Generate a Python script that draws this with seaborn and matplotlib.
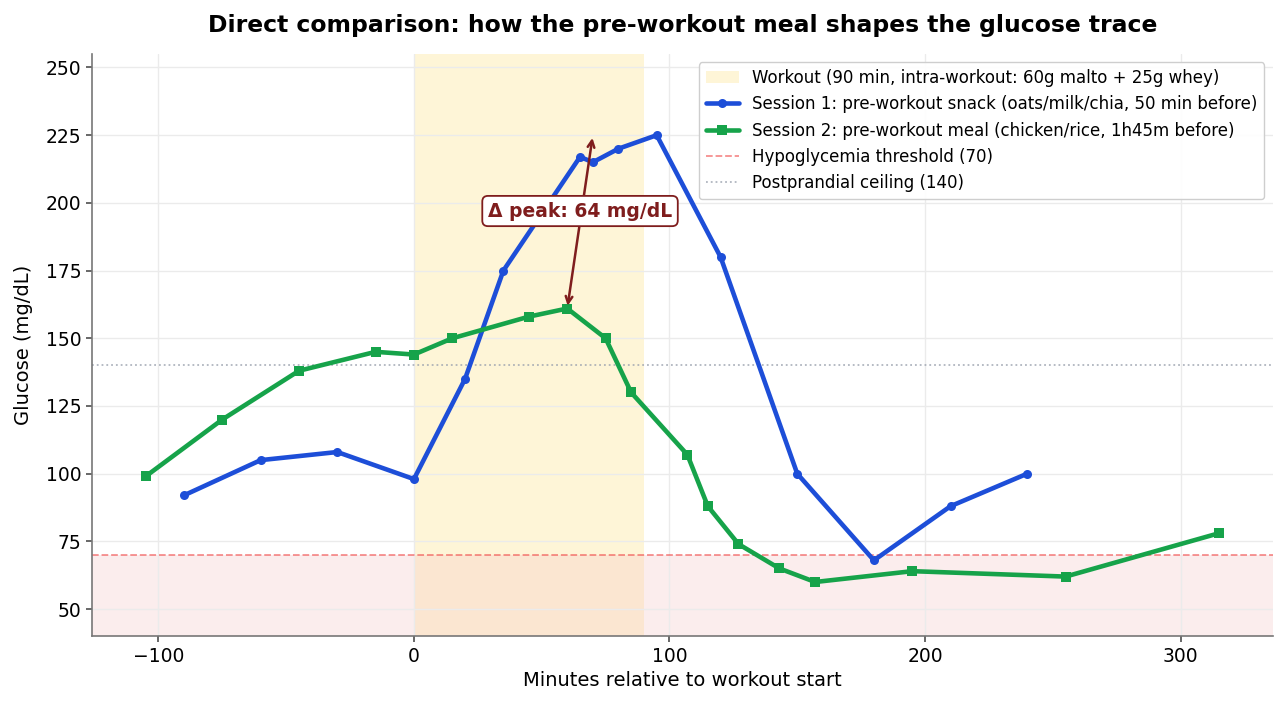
import numpy as np
import pandas as pd
import seaborn as sns
import matplotlib.pyplot as plt

# session 1 - snack 50 min before
s1_min = [-90, -60, -30, 0, 20, 35, 50, 65, 70, 80, 95, 120, 150, 180, 210, 240]
s1_glu = [92, 105, 108, 98, 135, 175, 196, 217, 215, 220, 225, 180, 100, 68, 88, 100]

# session 2 - meal 1h45m before
s2_min = [-105, -75, -45, -15, 0, 15, 45, 60, 75, 85, 107, 115, 127, 143, 157, 195, 255, 315]
s2_glu = [99, 120, 138, 145, 144, 150, 158, 161, 150, 130, 107, 88, 74, 65, 60, 64, 62, 78]

workout_start, workout_end = 0, 90
hypo = 70
ceiling = 140

lab_work = "Workout (90 min, intra-workout: 60g malto + 25g whey)"
lab_s1 = "Session 1: pre-workout snack (oats/milk/chia, 50 min before)"
lab_s2 = "Session 2: pre-workout meal (chicken/rice, 1h45m before)"
lab_hypo = "Hypoglycemia threshold (70)"
lab_ceil = "Postprandial ceiling (140)"

df1 = pd.DataFrame({"min": s1_min, "glu": s1_glu})
df2 = pd.DataFrame({"min": s2_min, "glu": s2_glu})

sns.set_theme(style="whitegrid")
plt.rcParams['font.family'] = ['DejaVu Sans']
plt.rcParams['text.color'] = 'black'
plt.rcParams['axes.labelcolor'] = 'black'
plt.rcParams['xtick.color'] = 'black'
plt.rcParams['ytick.color'] = 'black'

fig, ax = plt.subplots(figsize=(12.88, 7.1), dpi=100)
fig.subplots_adjust(left=0.0714, right=0.988, top=0.924, bottom=0.104)

ax.axvspan(workout_start, workout_end, color="#fde9a8", alpha=0.45, lw=0, label=lab_work, zorder=0)
ax.axhspan(40, hypo, color="#f5c6c6", alpha=0.3, lw=0, zorder=0)

sns.lineplot(data=df1, x="min", y="glu", ax=ax, color="#1d4ed8", lw=3.3, marker="o",
             markersize=6.5, markeredgewidth=0, label=lab_s1, zorder=3)
sns.lineplot(data=df2, x="min", y="glu", ax=ax, color="#16a34a", lw=3.3, marker="s",
             markersize=6.5, markeredgewidth=0, label=lab_s2, zorder=3)

ax.axhline(hypo, color="#ef4444", ls="--", lw=1.3, alpha=0.6, label=lab_hypo)
ax.axhline(ceiling, color="#9ca3af", ls=":", lw=1.3, alpha=0.8, label=lab_ceil)

# peak difference annotation
p1 = max(s1_glu)
p2 = max(s2_glu)
x2 = s2_min[s2_glu.index(p2)]
ax.annotate("", xy=(x2 + 10, p1), xytext=(x2, p2),
            arrowprops=dict(arrowstyle="<->", color="#7f1d1d", lw=1.8))
ax.text(x2 + 5, 197, f"Δ peak: {p1 - p2} mg/dL", ha="center", va="center",
        fontsize=13.5, fontweight="bold", color="#7f1d1d",
        bbox=dict(boxstyle="round,pad=0.3", fc="white", ec="#7f1d1d", lw=1.3), zorder=5)

ax.set_ylim(40, 255)
ax.set_xlabel("Minutes relative to workout start", fontsize=14)
ax.set_ylabel("Glucose (mg/dL)", fontsize=14, labelpad=9)
ax.set_title("Direct comparison: how the pre-workout meal shapes the glucose trace",
             fontsize=16.9, fontweight="bold", pad=15.5)
ax.tick_params(labelsize=13.5, length=4, bottom=True, left=True, color="#555555")
ax.grid(True, color="#ebebeb", lw=1)
sns.despine(ax=ax)
for s in ["left", "bottom"]:
    ax.spines[s].set_color("#777777")
    ax.spines[s].set_linewidth(1.2)

handles, labels = ax.get_legend_handles_labels()
order = [lab_work, lab_s1, lab_s2, lab_hypo, lab_ceil]
hmap = dict(zip(labels, handles))
ax.legend([hmap[l] for l in order], order, loc="upper right", fontsize=12,
          frameon=True, framealpha=0.95, edgecolor="#cccccc")

plt.savefig("out.png", dpi=100)
